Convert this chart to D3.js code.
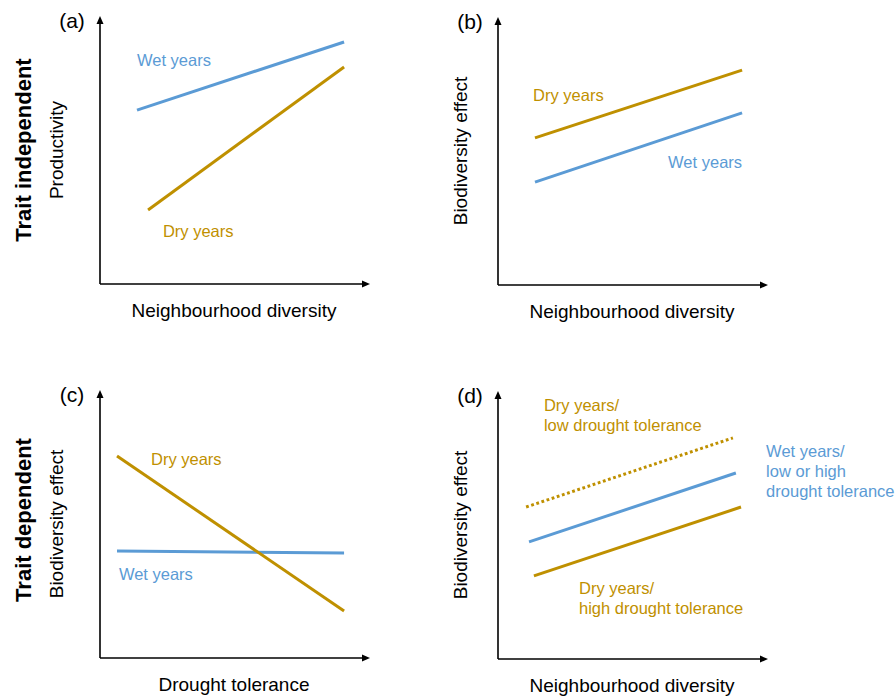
<!DOCTYPE html>
<html>
<head>
<meta charset="utf-8">
<script src="https://cdn.jsdelivr.net/npm/d3@7"></script>
<style>
  body { margin: 0; background: #fff; }
  text { font-family: "Liberation Sans", Arial, sans-serif; }
</style>
</head>
<body>
<svg id="chart" width="895" height="696"></svg>
<script>
// conceptual values, 0-100 units along each axis
var panelIds = ['a', 'b', 'c', 'd'];
var xTitles = ['Neighbourhood diversity', 'Neighbourhood diversity', 'Drought tolerance', 'Neighbourhood diversity'];
var yTitles = ['Productivity', 'Biodiversity effect', 'Biodiversity effect', 'Biodiversity effect'];
var rowTitles = ['Trait independent', 'Trait dependent'];

// each line: [x0, y0, x1, y1]
var aWet = [13.7, 64.9, 90.4, 90.3];
var aDry = [17.8, 27.6, 90.4, 81.0];
var bDry = [13.7, 54.9, 90.4, 80.2];
var bWet = [13.7, 38.4, 90.4, 64.2];
var cDry = [6.3, 75.4, 90.4, 17.5];
var cWet = [6.3, 39.9, 90.4, 39.2];
var dDryLow = [10.4, 56.7, 87.0, 82.5];
var dWet = [11.5, 43.7, 88.1, 69.4];
var dDryHigh = [13.3, 31.0, 90.0, 56.7];

var aLabels = [['Wet years'], ['Dry years']];
var bLabels = [['Dry years'], ['Wet years']];
var cLabels = [['Dry years'], ['Wet years']];
var dLabels = [['Dry years/', 'low drought tolerance'], ['Wet years/', 'low or high', 'drought tolerance'], ['Dry years/', 'high drought tolerance']];

var blue = '#5b9bd5';
var gold = '#bf9000';

var svg = d3.select('#chart');
var W = 270, H = 268;

var panels = [
  { ox: 100, oy: 284, yTitleOff: 44,
    lines: [{ v: aWet, c: blue }, { v: aDry, c: gold }],
    labels: [{ t: aLabels[0], c: blue, x: 13.7, y: 83.6 }, { t: aLabels[1], c: gold, x: 23.3, y: 19.8 }] },
  { ox: 498, oy: 285, yTitleOff: 38,
    lines: [{ v: bDry, c: gold }, { v: bWet, c: blue }],
    labels: [{ t: bLabels[0], c: gold, x: 13.0, y: 70.9 }, { t: bLabels[1], c: blue, x: 63.0, y: 45.9 }] },
  { ox: 100, oy: 658, yTitleOff: 44,
    lines: [{ v: cWet, c: blue }, { v: cDry, c: gold }],
    labels: [{ t: cLabels[0], c: gold, x: 18.9, y: 74.3 }, { t: cLabels[1], c: blue, x: 7.0, y: 31.3 }] },
  { ox: 498, oy: 659, yTitleOff: 38,
    lines: [{ v: dDryLow, c: gold, dot: true }, { v: dWet, c: blue }, { v: dDryHigh, c: gold }],
    labels: [{ t: dLabels[0], c: gold, x: 17.0, y: 94.8 }, { t: dLabels[1], c: blue, x: 99.3, y: 77.6 }, { t: dLabels[2], c: gold, x: 30.0, y: 26.5 }] }
];

panels.forEach(function (p, i) {
  var x = d3.scaleLinear().domain([0, 100]).range([p.ox, p.ox + W]);
  var y = d3.scaleLinear().domain([0, 100]).range([p.oy, p.oy - H]);
  var g = svg.append('g');

  // axes with arrowheads
  g.append('line').attr('x1', x(0)).attr('y1', y(0)).attr('x2', x(0)).attr('y2', y(100) + 6)
    .attr('stroke', '#000').attr('stroke-width', 1.6);
  g.append('line').attr('x1', x(0)).attr('y1', y(0)).attr('x2', x(100) - 6).attr('y2', y(0))
    .attr('stroke', '#000').attr('stroke-width', 1.6);
  g.append('path')
    .attr('d', 'M' + x(0) + ',' + y(100) + 'l-3.5,8l7,0z')
    .attr('fill', '#000');
  g.append('path')
    .attr('d', 'M' + x(100) + ',' + y(0) + 'l-8,-3.5l0,7z')
    .attr('fill', '#000');

  g.selectAll('line.series')
    .data(p.lines)
    .enter()
    .append('line')
    .attr('class', 'series')
    .attr('x1', d => x(d.v[0])).attr('y1', d => y(d.v[1]))
    .attr('x2', d => x(d.v[2])).attr('y2', d => y(d.v[3]))
    .attr('stroke', d => d.c)
    .attr('stroke-width', 3)
    .attr('stroke-dasharray', d => d.dot ? '2.8,2.6' : null);

  p.labels.forEach(function (l) {
    var t = g.append('text')
      .attr('x', x(l.x)).attr('y', y(l.y))
      .attr('fill', l.c)
      .style('font-size', '16.5px');
    l.t.forEach(function (s, k) {
      t.append('tspan').attr('x', x(l.x)).attr('dy', k == 0 ? '0.35em' : '20px').text(s);
    });
  });

  g.append('text')
    .attr('x', x(0) + 134).attr('y', y(0) + 26).attr('dy', '0.35em')
    .attr('text-anchor', 'middle')
    .style('font-size', '19px')
    .text(xTitles[i]);

  g.append('text')
    .attr('transform', 'translate(' + (x(0) - p.yTitleOff) + ',' + (p.oy - 134) + ') rotate(-90)')
    .attr('text-anchor', 'middle').attr('dy', '0.35em')
    .style('font-size', '19px')
    .text(yTitles[i]);

  g.append('text')
    .attr('x', x(0) - 28).attr('y', y(100) + 5).attr('dy', '0.35em')
    .attr('text-anchor', 'middle')
    .style('font-size', '21px')
    .text('(' + panelIds[i] + ')');
});

rowTitles.forEach(function (s, k) {
  var cy = k == 0 ? 150 : 520;
  svg.append('text')
    .attr('transform', 'translate(23,' + cy + ') rotate(-90)')
    .attr('text-anchor', 'middle').attr('dy', '0.35em')
    .style('font-size', '22px')
    .style('font-weight', 'bold')
    .text(s);
});
</script>
</body>
</html>
